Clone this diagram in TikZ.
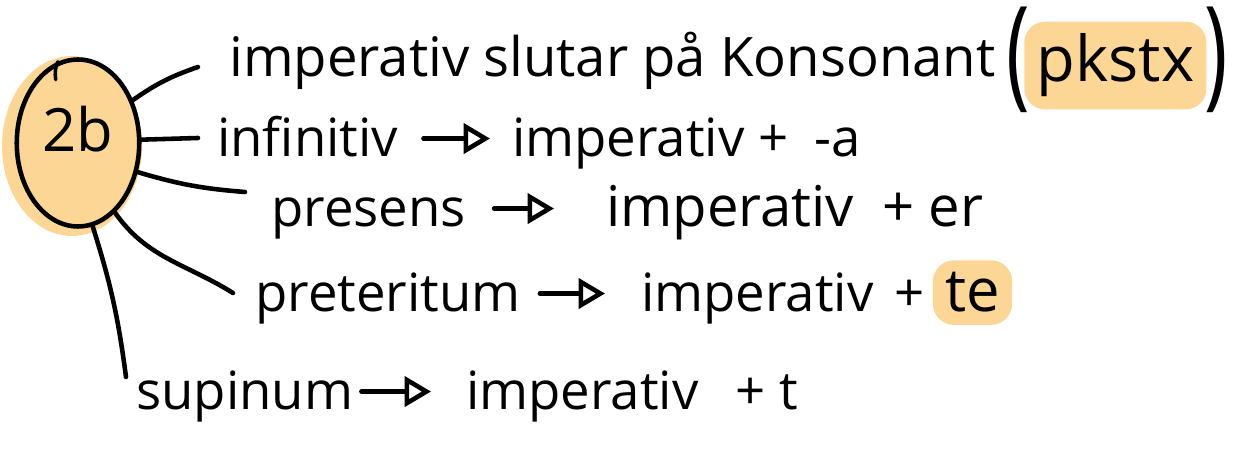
\documentclass[tikz,border=0pt]{standalone}
\usepackage{fontspec}
\setmainfont{Open Sans}
\usepackage{xcolor}
\usepackage{tikz}
\usetikzlibrary{arrows.meta, positioning, shapes.geometric}
\definecolor{marker}{RGB}{252,214,148}

\begin{document}
\begin{tikzpicture}[x=0.02cm, y=-0.02cm, line width=2.6pt, line cap=round,
    >={Triangle[open, length=15pt, width=17pt]},
    word/.style={anchor=base west, inner sep=0pt, font=\fontsize{30}{34}\selectfont},
    hl/.style={fill=marker, rounded corners=12pt, inner xsep=7pt, inner ysep=7pt},
    paren/.style={anchor=base west, inner sep=0pt, font=\fontsize{30}{34}\selectfont},
    hubstyle/.style={draw, ellipse, minimum width=2.45cm, minimum height=3.34cm,
      inner sep=0pt, text depth=0.55cm, font=\fontsize{34}{38}\selectfont}]
  \useasboundingbox (0,0) rectangle (1237,455);

  % the 2b blob
  \fill[marker] (72,146) ellipse (1.4cm and 1.8cm);
  \node[hubstyle] (hub) at (78,143) {2b};
  \draw[line width=2pt] (hub.104) to[bend right=15] ++(-2,18);

  % free ends of the branches
  \coordinate (c1) at (198,67);
  \coordinate (c2) at (198,138);
  \coordinate (c3) at (245,192);
  \coordinate (c4) at (233,293);
  \coordinate (c5) at (126,377);

  % first row
  \node[word, font=\fontsize{31}{35}\selectfont] (rule) at (227,77) {imperativ slutar på Konsonant};
  \node[paren] (lpar) at (1004,94) {\scalebox{1.5}[2.3]{(}};
  \node[word, hl, font=\fontsize{36}{40}\selectfont] (pkstx) at (1022,82) {pkstx};
  \node[paren] (rpar) at (1202,94) {\scalebox{1.5}[2.3]{)}};

  % the four tenses
  \node[word] (inf) at (215,157) {infinitiv};
  \node[word] (infimp) at (510,157) {imperativ +\enspace-a};
  \node[word] (pres) at (269,227) {presens};
  \node[word, font=\fontsize{32}{36}\selectfont] (presimp) at (604,227) {imperativ\hspace{0.5em}+ er};
  \node[word] (pret) at (253,312) {preteritum};
  \node[word] (pretimp) at (639,312) {imperativ\hspace{0.4em}+};
  \node[word, hl, font=\fontsize{34}{38}\selectfont, base right=2pt of pretimp] (te) {te};
  \node[word] (sup) at (134,410) {supinum};
  \node[word] (supimp) at (464,410) {imperativ\hspace{0.7em}+ t};

  % branches
  \draw (hub.38) to[bend left=8] (c1);
  \draw (hub.3) -- (c2);
  \draw (hub.-26) to[bend right=6] (c3);
  \draw (hub.-62) to[out=-55, in=148] (c4);
  \draw (hub.-80) to[bend left=5] (c5);

  % arrows
  \draw[->, shorten <=0.46cm, shorten >=0.4cm] ([yshift=10.5pt]inf.base east) -- ([yshift=10.5pt]infimp.base west);
  \draw[->, shorten <=0.52cm, shorten >=1.0cm] ([yshift=10.5pt]pres.base east) -- ([yshift=10.5pt]presimp.base west);
  \draw[->, shorten <=0.34cm, shorten >=0.68cm] ([yshift=10.5pt]pret.base east) -- ([yshift=10.5pt]pretimp.base west);
  \draw[->, shorten <=0.12cm, shorten >=0.66cm] ([yshift=10.5pt]sup.base east) -- ([yshift=10.5pt]supimp.base west);
\end{tikzpicture}
\end{document}
